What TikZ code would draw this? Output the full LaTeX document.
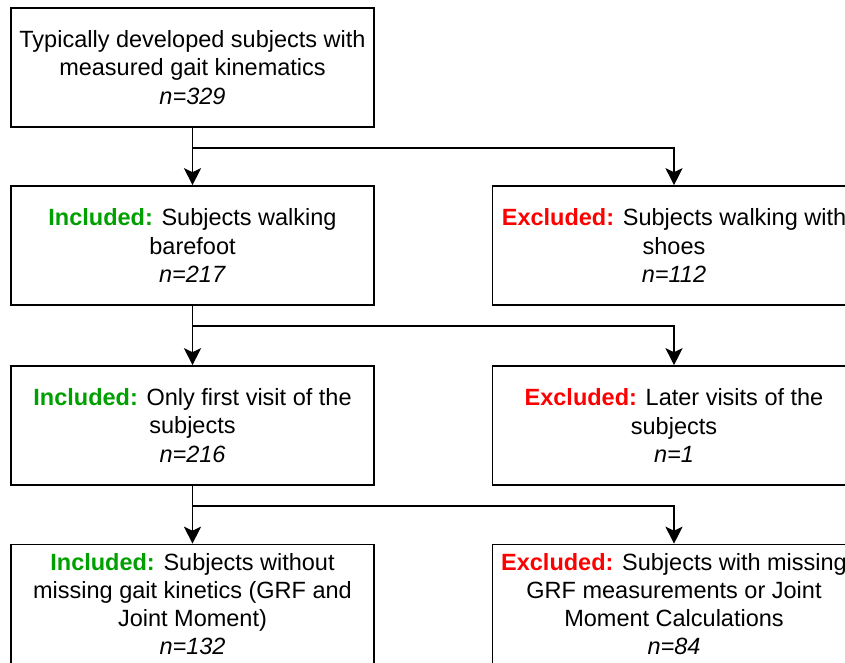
\documentclass[tikz,border=0pt]{standalone}
\usepackage{fontspec}
\setmainfont{Liberation Sans}
\usetikzlibrary{arrows.meta,calc}
\definecolor{incgreen}{RGB}{0,160,0}
\definecolor{excred}{RGB}{255,0,0}
\newcommand{\inc}{\textcolor{incgreen}{\textbf{Included:}}}
\newcommand{\exc}{\textcolor{excred}{\textbf{Excluded:}}}
\begin{document}
\begin{tikzpicture}[x=1pt,y=-1pt,
  flowbox/.style={draw=black,line width=1.6pt,rectangle,minimum width=363pt,minimum height=119pt,
    align=center,inner sep=2pt,font=\fontsize{23.5}{28.2}\selectfont},
  arr/.style={line width=1.6pt,-{Stealth[length=17pt,width=17pt,inset=4pt]}},
  ln/.style={line width=1.6pt}]
\useasboundingbox (0,0) rectangle (845,663);
\node[flowbox] (top) at (192.5,67.5) {Typically developed subjects with\\measured gait kinematics\\\textit{n=329}};
\node[flowbox] (inc1) at (192.5,245.5) {\inc{} Subjects walking\\barefoot\\\textit{n=217}};
\node[flowbox] (exc1) at (674,245.5) {\exc{} Subjects walking with\\shoes\\\textit{n=112}};
\node[flowbox] (inc2) at (192.5,425.5) {\inc{} Only first visit of the\\subjects\\\textit{n=216}};
\node[flowbox] (exc2) at (674,425.5) {\exc{} Later visits of the\\subjects\\\textit{n=1}};
\node[flowbox] (inc3) at (192.5,604) {\inc{} Subjects without\\missing gait kinetics (GRF and\\Joint Moment)\\\textit{n=132}};
\node[flowbox] (exc3) at (674,604) {\exc{} Subjects with missing\\GRF measurements or Joint\\Moment Calculations\\\textit{n=84}};
\coordinate (b1) at ($(top.south)+(0,20)$);
\coordinate (b2) at ($(inc1.south)+(0,20)$);
\coordinate (b3) at ($(inc2.south)+(0,20)$);
\draw[arr] (top.south) -- (inc1.north);
\draw[arr] (b1) -| (exc1.north);
\draw[arr] (inc1.south) -- (inc2.north);
\draw[arr] (b2) -| (exc2.north);
\draw[arr] (inc2.south) -- (inc3.north);
\draw[arr] (b3) -| (exc3.north);
\end{tikzpicture}
\end{document}
